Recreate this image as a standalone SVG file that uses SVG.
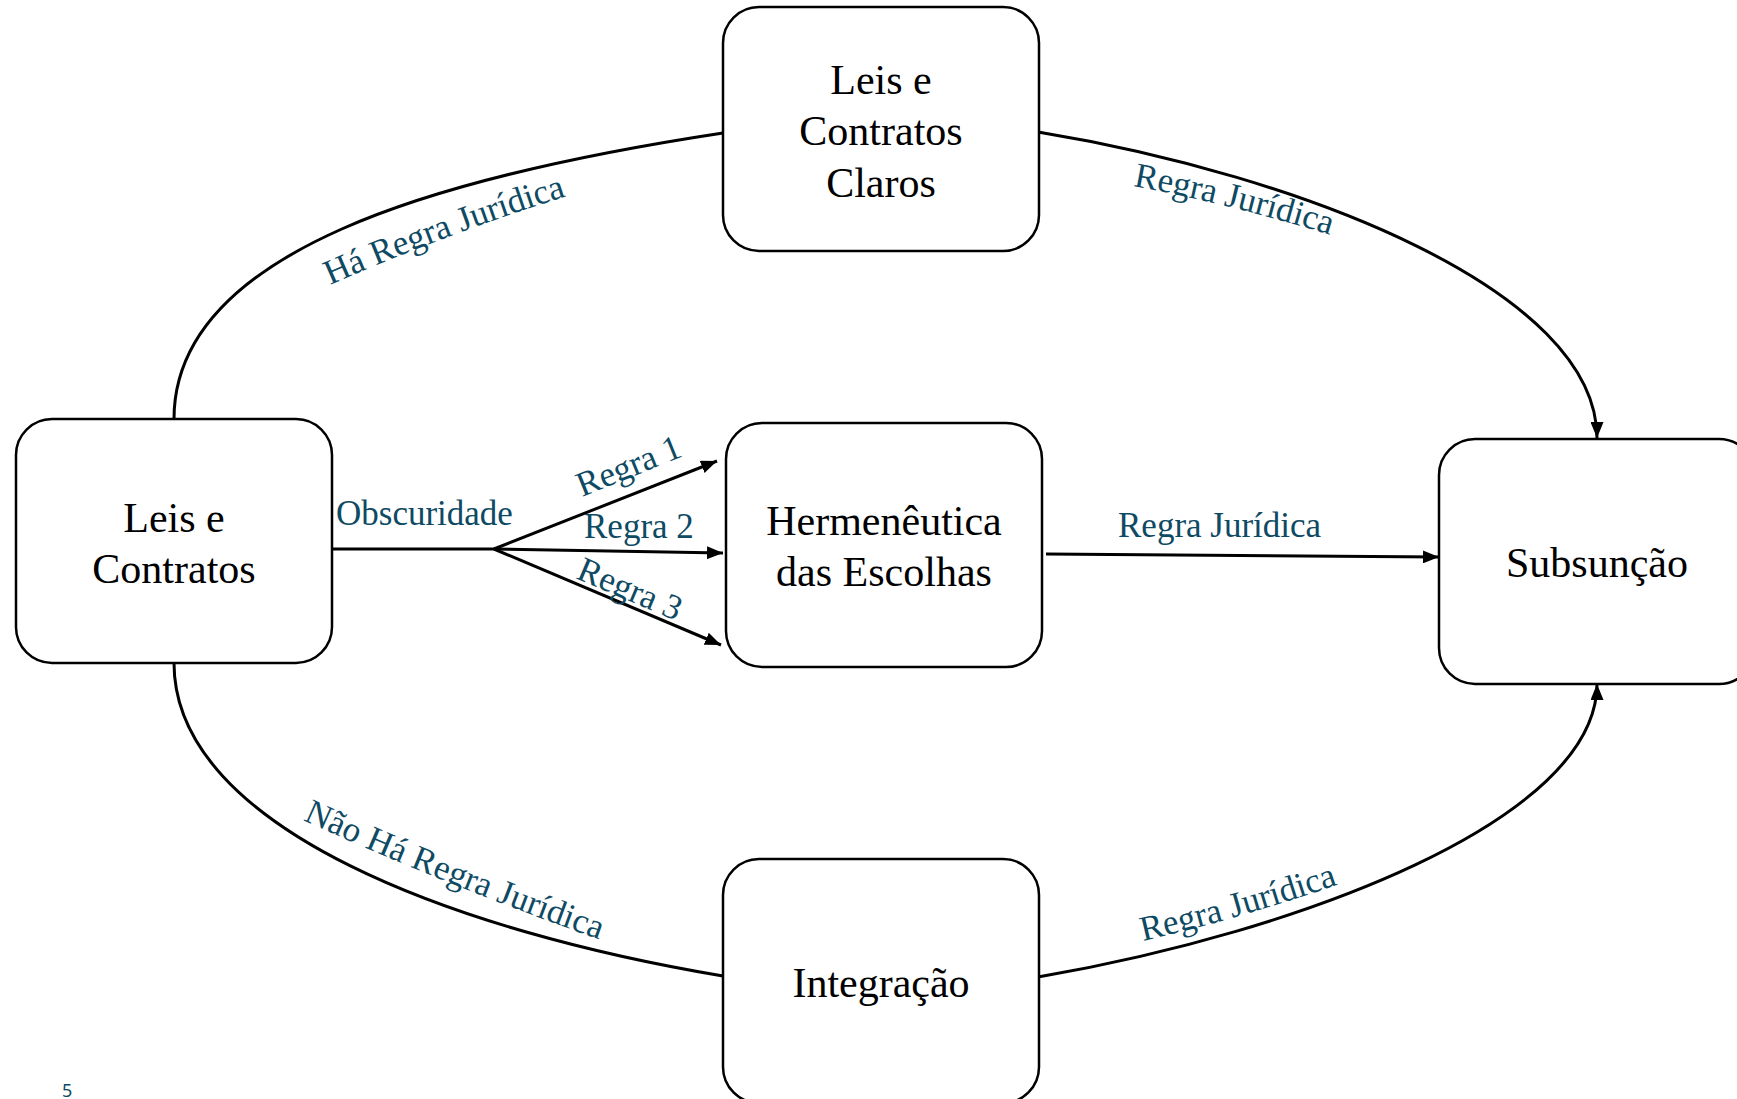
<svg xmlns="http://www.w3.org/2000/svg" width="1737" height="1099" viewBox="0 0 1737 1099">
<style>
.box{fill:#fff;stroke:#000;stroke-width:2.5}
.nt{font-family:"Liberation Serif","Times New Roman",serif;font-size:42px;fill:#000;text-anchor:middle}
.conn{fill:none;stroke:#000;stroke-width:3}
.lbl{font-family:"Liberation Serif","Times New Roman",serif;font-size:35px;fill:#0E4A63}
.pg{font-family:"Noto Sans","Liberation Sans",sans-serif;font-size:18px;fill:#0E4A63}
</style>
<defs>
<marker id="ah" viewBox="0 0 16 13" refX="16" refY="6.5" markerWidth="16" markerHeight="13" markerUnits="userSpaceOnUse" orient="auto">
<path d="M0,0 L16,6.5 L0,13 Z" fill="#000"/>
</marker>
<path id="p1" d="M330,285 Q450,232 586,190"/>
<path id="p2" d="M1133,186 Q1236,205 1340,238"/>
<path id="p3" d="M303,820 Q445,885 612,944"/>
<path id="p4" d="M1143,941 Q1242,918 1345,882"/>
</defs>

<g id="connectors">
<path class="conn" d="M174,419 C174,250 440,176 723,133"/>
<path class="conn" d="M1038,132 C1300,175 1597,290 1597,438" marker-end="url(#ah)"/>
<path class="conn" d="M174,663 C174,830 460,932 723,976"/>
<path class="conn" d="M1038,977 C1300,932 1597,820 1597,684" marker-end="url(#ah)"/>
<path class="conn" d="M331,549 L494,549"/>
<path class="conn" d="M494,549 L717,461" marker-end="url(#ah)"/>
<path class="conn" d="M494,549 L723,553" marker-end="url(#ah)"/>
<path class="conn" d="M494,549 L721,645" marker-end="url(#ah)"/>
<path class="conn" d="M1046,554 L1439,557" marker-end="url(#ah)"/>
</g>

<g id="labels">
<text class="lbl"><textPath href="#p1">Há Regra Jurídica</textPath></text>
<text class="lbl"><textPath href="#p2">Regra Jurídica</textPath></text>
<text class="lbl"><textPath href="#p3">Não Há Regra Jurídica</textPath></text>
<text class="lbl"><textPath href="#p4">Regra Jurídica</textPath></text>
<text class="lbl" x="336" y="525">Obscuridade</text>
<text class="lbl" transform="translate(582,497) rotate(-22)">Regra 1</text>
<text class="lbl" x="584" y="538">Regra 2</text>
<text class="lbl" transform="translate(575,578) rotate(23)">Regra 3</text>
<text class="lbl" x="1118" y="537">Regra Jurídica</text>
</g>

<g id="node-claros">
<rect class="box" x="723" y="7" width="316" height="244" rx="36" ry="36"/>
<text class="nt" x="881" y="94">Leis e</text>
<text class="nt" x="881" y="145">Contratos</text>
<text class="nt" x="881" y="197">Claros</text>
</g>
<g id="node-leis">
<rect class="box" x="16" y="419" width="316" height="244" rx="36" ry="36"/>
<text class="nt" x="174" y="532">Leis e</text>
<text class="nt" x="174" y="583">Contratos</text>
</g>
<g id="node-hermeneutica">
<rect class="box" x="726" y="423" width="316" height="244" rx="36" ry="36"/>
<text class="nt" x="884" y="535">Hermenêutica</text>
<text class="nt" x="884" y="586">das Escolhas</text>
</g>
<g id="node-subsuncao">
<rect class="box" x="1439" y="439" width="316" height="245" rx="36" ry="36"/>
<text class="nt" x="1597" y="577">Subsunção</text>
</g>
<g id="node-integracao">
<rect class="box" x="723" y="859" width="316" height="244" rx="36" ry="36"/>
<text class="nt" x="881" y="997">Integração</text>
</g>

<text class="pg" x="62" y="1097">5</text>
</svg>
